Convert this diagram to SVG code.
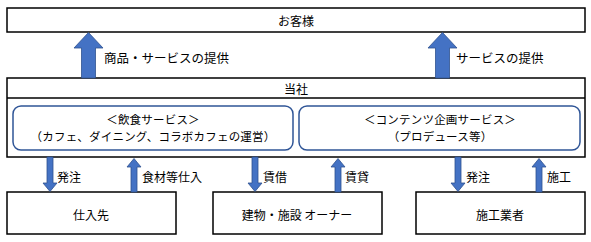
<svg xmlns="http://www.w3.org/2000/svg" width="591" height="242" viewBox="0 0 591 242">
<style>
.box{fill:#fff;stroke:#000;stroke-width:1.5}
.rbox{fill:#fff;stroke:#2F5597;stroke-width:1.5}
.arr{fill:#4472C4;stroke:#2F528F;stroke-width:0.8}
text{font-family:"Noto Sans CJK JP","Noto Sans CJK SC",sans-serif;font-size:12px;fill:#000;dominant-baseline:central}
.c{text-anchor:middle}
.s{font-size:11.5px;letter-spacing:0.2px}
.l{font-size:12.5px}
</style>
<rect width="591" height="242" fill="#fff"/>
<g id="customer">
<rect class="box" x="7" y="8" width="578" height="24"/>
<text class="c" x="296" y="20">お客様</text>
</g>
<g id="company">
<rect class="box" x="7" y="78" width="578" height="79"/>
<line x1="7" y1="98" x2="585" y2="98" stroke="#000" stroke-width="1.5"/>
<text class="c" x="296" y="88">当社</text>
</g>
<g id="food">
<rect class="rbox" x="13" y="106" width="280" height="44" rx="8"/>
<text class="c s" x="153" y="119">＜飲食サービス＞</text>
<text class="c s" x="153" y="135.5">（カフェ、ダイニング、コラボカフェの運営）</text>
</g>
<g id="contents">
<rect class="rbox" x="299" y="106" width="281" height="44" rx="8"/>
<text class="c s" x="440" y="119">＜コンテンツ企画サービス＞</text>
<text class="c s" x="440" y="135.5">（プロデュース等）</text>
</g>
<g id="supplier">
<rect class="box" x="7" y="192" width="169" height="42"/>
<text class="c" x="91" y="214">仕入先</text>
</g>
<g id="owner">
<rect class="box" x="213" y="192" width="169" height="42"/>
<text class="c" x="297" y="214">建物・施設 オーナー</text>
</g>
<g id="contractor">
<rect class="box" x="416" y="192" width="169" height="42"/>
<text class="c" x="500" y="214">施工業者</text>
</g>
<g id="connectors">
<path class="arr" d="M81.5,78 V48 H74 L88.5,32.5 L103,48 H95.5 V78 Z"/>
<text class="l" x="104" y="57">商品・サービスの提供</text>
<path class="arr" d="M435.5,78 V48 H428 L442.5,32.5 L457,48 H449.5 V78 Z"/>
<text class="l" x="456" y="57">サービスの提供</text>

<path class="arr" d="M47,157 V183 H43 L50,191.5 L57,183 H53 V157 Z"/>
<text x="57" y="176">発注</text>
<path class="arr" d="M131,192 V167 H127 L134,158.5 L141,167 H137 V192 Z"/>
<text x="142" y="176">食材等仕入</text>

<path class="arr" d="M252,157 V183 H248 L255,191.5 L262,183 H258 V157 Z"/>
<text x="263" y="176">賃借</text>
<path class="arr" d="M335,192 V167 H331 L338,158.5 L345,167 H341 V192 Z"/>
<text x="345" y="176">賃貸</text>

<path class="arr" d="M455,157 V183 H451 L458,191.5 L465,183 H461 V157 Z"/>
<text x="466" y="176">発注</text>
<path class="arr" d="M536,192 V167 H532 L539,158.5 L546,167 H542 V192 Z"/>
<text x="547" y="176">施工</text>
</g>
</svg>
